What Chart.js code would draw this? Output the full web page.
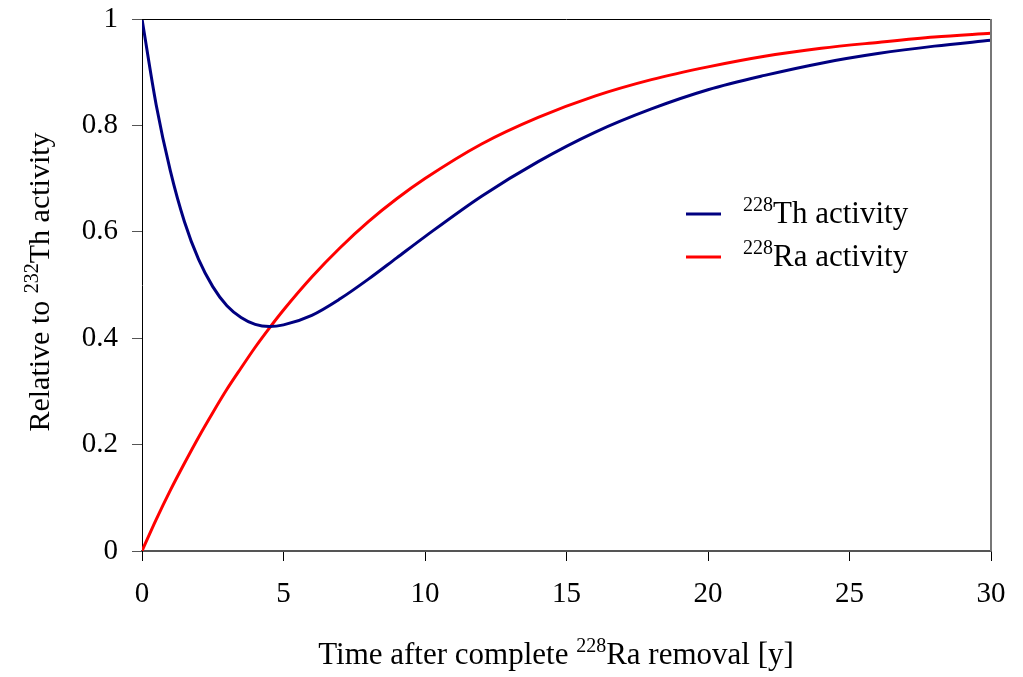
<!DOCTYPE html>
<html>
<head>
<meta charset="utf-8">
<script src="https://cdn.jsdelivr.net/npm/chart.js@4.4.1/dist/chart.umd.min.js"></script>
<style>
  html, body { margin: 0; padding: 0; background: #fff; }
  #wrap { width: 1023px; height: 677px; }
</style>
</head>
<body>
<div id="wrap"><canvas id="myChart" width="1023" height="677"></canvas></div>
<script>
// values (years, fraction of 232Th activity)
const years = [0, 0.5, 1, 1.5, 2, 2.5, 3, 3.5, 4, 4.5, 5, 6, 7, 8, 9, 10, 12, 14, 16, 18, 20, 22, 24, 26, 28, 30];
const thActivity = [1, 0.839, 0.715, 0.619, 0.548, 0.497, 0.461, 0.439, 0.426, 0.422, 0.425, 0.443, 0.474, 0.511, 0.551, 0.591, 0.667, 0.732, 0.787, 0.831, 0.867, 0.894, 0.917, 0.935, 0.949, 0.960];
const raActivity = [0, 0.059, 0.114, 0.165, 0.214, 0.260, 0.304, 0.344, 0.383, 0.419, 0.453, 0.515, 0.570, 0.619, 0.662, 0.700, 0.765, 0.815, 0.855, 0.886, 0.910, 0.930, 0.945, 0.956, 0.966, 0.973];
// text pieces as [superscript, normal text]
const seriesNames = [[['228', 'Th activity']], [['228', 'Ra activity']]];
const xTitle = [['', 'Time after complete '], ['228', 'Ra removal [y]']];
const yTitle = [['', 'Relative to '], ['232', 'Th activity']];

const serif = '"Liberation Serif", "Times New Roman", serif';

function supWidth(ctx, parts, size) {
  let w = 0;
  parts.forEach(p => {
    ctx.font = Math.round(size * 0.66) + 'px ' + serif; w += ctx.measureText(p[0]).width;
    ctx.font = size + 'px ' + serif; w += ctx.measureText(p[1]).width;
  });
  return w;
}
function drawSup(ctx, parts, x, y, size) {
  ctx.textBaseline = 'alphabetic';
  ctx.textAlign = 'left';
  parts.forEach(p => {
    ctx.font = Math.round(size * 0.66) + 'px ' + serif; ctx.fillText(p[0], x, y - size * 0.38); x += ctx.measureText(p[0]).width;
    ctx.font = size + 'px ' + serif; ctx.fillText(p[1], x, y); x += ctx.measureText(p[1]).width;
  });
}

const extras = {
  id: 'extras',
  afterDraw(chart) {
    const ctx = chart.ctx, a = chart.chartArea;
    ctx.save();
    // frame top / right
    ctx.strokeStyle = '#000'; ctx.lineWidth = 1;
    ctx.beginPath(); ctx.moveTo(a.left, a.top + 0.5); ctx.lineTo(a.right, a.top + 0.5); ctx.stroke();
    ctx.strokeStyle = '#777'; ctx.lineWidth = 2;
    ctx.beginPath(); ctx.moveTo(a.right, a.top); ctx.lineTo(a.right, a.bottom); ctx.stroke();
    ctx.fillStyle = '#000';
    // x title
    let w = supWidth(ctx, xTitle, 31);
    drawSup(ctx, xTitle, 556 - w / 2, 664, 31);
    // y title
    ctx.save();
    ctx.translate(49, 282);
    ctx.rotate(-Math.PI / 2);
    w = supWidth(ctx, yTitle, 30);
    drawSup(ctx, yTitle, -w / 2, 0, 30);
    ctx.restore();
    // legend
    chart.data.datasets.forEach((ds, i) => {
      const y = 214 + i * 43;
      ctx.strokeStyle = ds.borderColor; ctx.lineWidth = 3;
      ctx.beginPath(); ctx.moveTo(686, y); ctx.lineTo(721, y); ctx.stroke();
      ctx.fillStyle = '#000';
      drawSup(ctx, seriesNames[i], 743, y + 9, 31);
    });
    ctx.restore();
  }
};

const ctx = document.getElementById('myChart');
new Chart(ctx, {
  type: 'line',
  data: {
    datasets: [
      {
        label: '228Th activity',
        data: years.map((t, i) => ({ x: t, y: thActivity[i] })),
        borderColor: '#000080',
        borderWidth: 3,
        pointRadius: 0,
        cubicInterpolationMode: 'monotone',
        fill: false
      },
      {
        label: '228Ra activity',
        data: years.map((t, i) => ({ x: t, y: raActivity[i] })),
        borderColor: '#ff0000',
        borderWidth: 3,
        pointRadius: 0,
        cubicInterpolationMode: 'monotone',
        fill: false
      }
    ]
  },
  options: {
    responsive: false,
    animation: false,
    layout: { padding: { top: 19, right: 32, left: 0, bottom: 0 } },
    plugins: { legend: { display: false }, tooltip: { enabled: false } },
    scales: {
      x: {
        type: 'linear',
        min: 0, max: 30,
        ticks: { stepSize: 5, color: '#000', font: { family: serif, size: 29 }, padding: 16, maxRotation: 0 },
        grid: { drawOnChartArea: false, tickLength: 10, color: '#000', tickWidth: 1 },
        border: { color: '#555', width: 2 },
        afterFit(scale) { scale.height = 126; scale.paddingLeft = 0; scale.paddingRight = 0; }
      },
      y: {
        min: 0, max: 1,
        ticks: {
          stepSize: 0.2, color: '#000', font: { family: serif, size: 29 }, padding: 14,
          callback: v => String(Math.round(v * 10) / 10)
        },
        grid: { drawOnChartArea: false, tickLength: 10, color: '#555', tickWidth: 1 },
        border: { color: '#000', width: 1 },
        afterFit(scale) { scale.width = 142; scale.paddingTop = 0; scale.paddingBottom = 0; }
      }
    }
  },
  plugins: [extras]
});
</script>
</body>
</html>
